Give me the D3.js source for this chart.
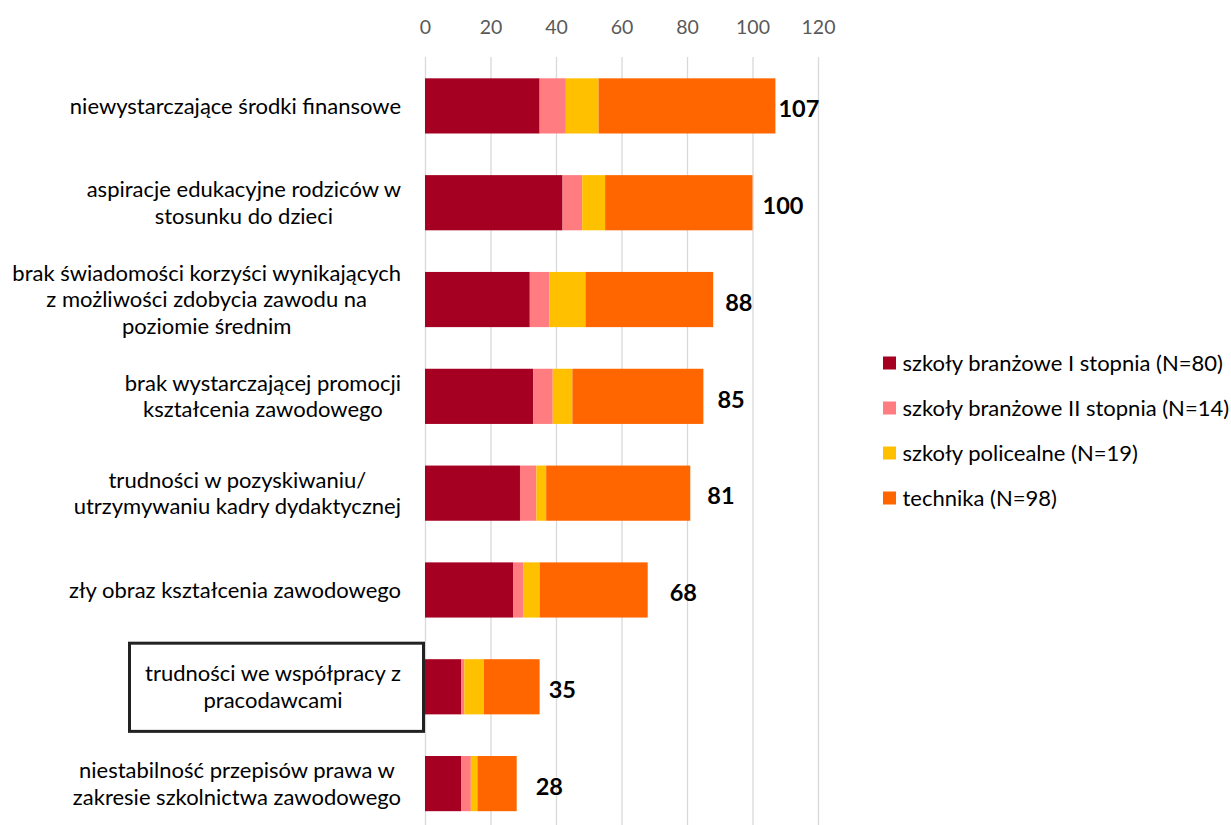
<!DOCTYPE html>
<meta charset="utf-8">
<html>
<head>
  <script src="https://d3js.org/d3.v7.min.js"></script>
  <style>
    body { margin: 0; background: #fff; }
    text { font-family: Lato, "Open Sans", sans-serif; }
  </style>
</head>
<body>
  <svg id="chart"></svg>
  <script type="text/javascript">
    // categories, each one split into its display lines
    var categories = [
      ["niewystarczające środki finansowe"],
      ["aspiracje edukacyjne rodziców w", "stosunku do dzieci"],
      ["brak świadomości korzyści wynikających", "z możliwości zdobycia zawodu na", "poziomie średnim"],
      ["brak wystarczającej promocji", "kształcenia zawodowego"],
      ["trudności w pozyskiwaniu/", "utrzymywaniu kadry dydaktycznej"],
      ["zły obraz kształcenia zawodowego"],
      ["trudności we współpracy z", "pracodawcami"],
      ["niestabilność przepisów prawa w", "zakresie szkolnictwa zawodowego"]
    ]
    var seriesNames = [
      "szkoły branżowe I stopnia (N=80)",
      "szkoły branżowe II stopnia (N=14)",
      "szkoły policealne (N=19)",
      "technika (N=98)"
    ]
    var branzoweI = [35, 42, 32, 33, 29, 27, 11, 11]
    var branzoweII = [8, 6, 6, 6, 5, 3, 1, 3]
    var policealne = [10, 7, 11, 6, 3, 5, 6, 2]
    var technika = [54, 45, 39, 40, 44, 33, 17, 12]
    var totals = [107, 100, 88, 85, 81, 68, 35, 28]
    var xTicks = [0, 20, 40, 60, 80, 100, 120]

    var colors = ["#A50021", "#FF7C80", "#FFC000", "#FF6600"]
    // hand placed gaps between bar end and its total label (px), as in the original
    var labelGap = [3, 10, 12, 14, 17, 22, 9, 19]
    var boxedIndex = 6

    var width = 1231, height = 825
    var svg = d3.select('#chart').attr('width', width).attr('height', height)

    var x = d3.scaleLinear().domain([0, 120]).range([425, 818])
    var y = d3.scaleBand()
      .domain(d3.range(categories.length))
      .range([57.5, 832])
      .paddingInner(0.43)
      .paddingOuter(0.215)

    // gridlines + top tick labels
    var axis = d3.axisTop(x).tickValues(xTicks).tickSize(-(832 - 57)).tickPadding(0)
    var axisG = svg.append('g').attr('transform', 'translate(0,57)').call(axis)
    axisG.select('.domain').remove()
    axisG.selectAll('.tick line').attr('stroke', '#d9d9d9').attr('stroke-width', 1.3)
    axisG.selectAll('.tick text')
      .attr('y', -30)
      .attr('dy', '0.35em')
      .attr('fill', '#595959')
      .attr('font-size', 19.5)

    // stacked bars
    var rows = categories.map(function (c, i) {
      return { i: i, s0: branzoweI[i], s1: branzoweII[i], s2: policealne[i], s3: technika[i] }
    })
    var stack = d3.stack().keys(['s0', 's1', 's2', 's3'])
    var layers = stack(rows)

    svg.append('g').selectAll('g')
      .data(layers)
      .enter().append('g')
      .attr('fill', function (d, k) { return colors[k] })
      .selectAll('rect')
      .data(function (d) { return d })
      .enter().append('rect')
      .attr('x', function (d) { return x(d[0]) })
      .attr('width', function (d) { return x(d[1]) - x(d[0]) })
      .attr('y', function (d) { return y(d.data.i) })
      .attr('height', y.bandwidth())

    // total labels
    svg.append('g').selectAll('text')
      .data(totals)
      .enter().append('text')
      .attr('x', function (d, i) { return x(d) + labelGap[i] })
      .attr('y', function (d, i) { return y(i) + y.bandwidth() / 2 + 3 })
      .attr('dy', '0.35em')
      .attr('font-size', 23.5)
      .attr('font-weight', 'bold')
      .attr('fill', '#000')
      .text(function (d) { return d })

    // category labels: lines centred on each other, block right aligned
    var lineH = 26.7
    var labelRight = 401
    var catG = svg.append('g')
    categories.forEach(function (lines, i) {
      var g = catG.append('g')
      var cy = y(i) + y.bandwidth() / 2
      var texts = lines.map(function (l, j) {
        return g.append('text')
          .attr('y', cy + (j - (lines.length - 1) / 2) * lineH)
          .attr('dy', '0.35em')
          .attr('font-size', 22)
          .attr('fill', '#000')
          .attr('text-anchor', 'middle')
          .text(l)
      })
      var maxW = d3.max(texts, function (t) { return t.node().getComputedTextLength() })
      texts.forEach(function (t) { t.attr('x', labelRight - maxW / 2) })
      if (i === boxedIndex) {
        catG.append('rect')
          .attr('x', 129.5)
          .attr('y', y(i) - 16)
          .attr('width', 294)
          .attr('height', y.bandwidth() + 33)
          .attr('fill', 'none')
          .attr('stroke', '#222')
          .attr('stroke-width', 3)
      }
    })

    // legend
    var legend = svg.append('g').attr('transform', 'translate(883,363)')
    var item = legend.selectAll('g')
      .data(seriesNames)
      .enter().append('g')
      .attr('transform', function (d, k) { return 'translate(0,' + k * 45 + ')' })
    item.append('rect')
      .attr('x', 0).attr('y', -6.5)
      .attr('width', 13).attr('height', 13)
      .attr('fill', function (d, k) { return colors[k] })
    item.append('text')
      .attr('x', 19.5)
      .attr('dy', '0.35em')
      .attr('font-size', 22)
      .attr('fill', '#000')
      .text(function (d) { return d })
  </script>
</body>
</html>
